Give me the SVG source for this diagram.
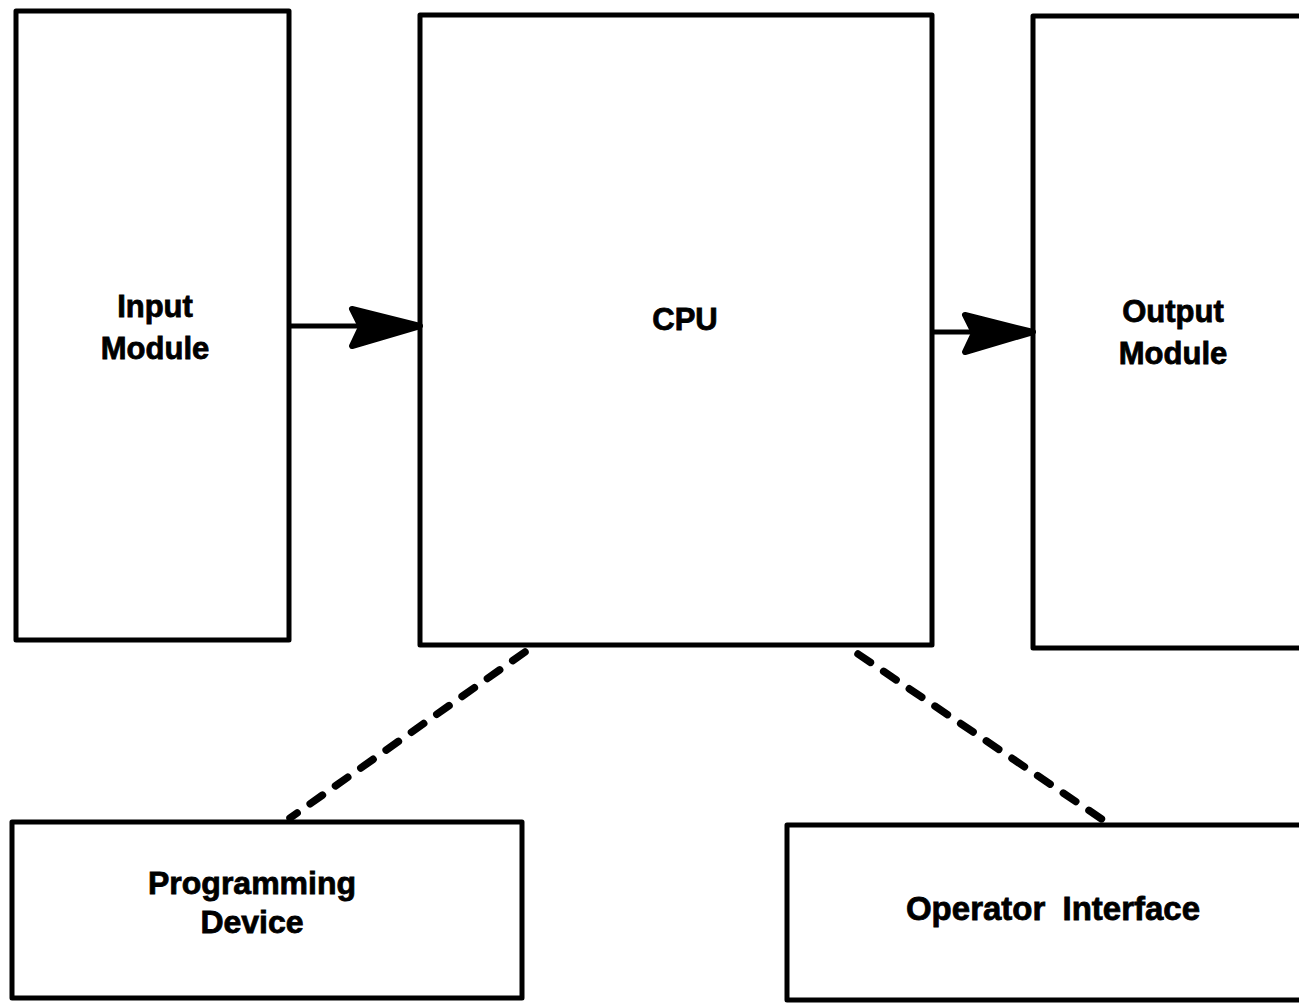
<svg xmlns="http://www.w3.org/2000/svg" width="1299" height="1003" viewBox="0 0 1299 1003">
<style>
.box{fill:#fff;stroke:#000;stroke-width:5;stroke-linejoin:round}
.lbl{font-family:"Liberation Sans",Arial,sans-serif;font-weight:bold;font-size:31px;fill:#000;stroke:#000;stroke-width:0.8;text-anchor:middle}
.flow{stroke:#000;stroke-width:5;fill:none}
.dash{stroke:#000;stroke-width:7.5;fill:none;stroke-linecap:round;stroke-dasharray:15 16}
</style>
<defs>
<marker id="ah" markerUnits="userSpaceOnUse" viewBox="0 -24 76 48" refX="52" refY="0" markerWidth="76" markerHeight="48" orient="auto">
<path d="M4,-17 L72,0 L4,20 L13,1 Z" fill="#000" stroke="#000" stroke-width="6" stroke-linejoin="round"/>
</marker>
</defs>
<rect width="1299" height="1003" fill="#fff"/>
<g id="input-module">
<rect class="box" x="16" y="11" width="273" height="629"/>
<text class="lbl" x="155" y="317">Input</text>
<text class="lbl" x="155" y="359">Module</text>
</g>
<g id="cpu">
<rect class="box" x="420" y="15" width="512" height="630"/>
<text class="lbl" x="685" y="330">CPU</text>
</g>
<g id="output-module">
<rect class="box" x="1033" y="16" width="280" height="632"/>
<text class="lbl" x="1173" y="322">Output</text>
<text class="lbl" x="1173" y="364">Module</text>
</g>
<g id="programming-device">
<rect class="box" x="12" y="822" width="510" height="176"/>
<text class="lbl" x="252" y="894" style="font-size:32px">Programming</text>
<text class="lbl" x="252" y="933" style="font-size:32px">Device</text>
</g>
<g id="operator-interface">
<rect class="box" x="787" y="825" width="520" height="175"/>
<text class="lbl" x="1053" y="920" style="font-size:33px;word-spacing:8px">Operator Interface</text>
</g>
<g id="connectors">
<line class="flow" x1="290" y1="326" x2="400" y2="326" marker-end="url(#ah)"/>
<line class="flow" x1="932" y1="332" x2="1013" y2="332" marker-end="url(#ah)"/>
<line class="dash" x1="525" y1="652" x2="290" y2="818"/>
<line class="dash" x1="858" y1="654" x2="1106" y2="822"/>
</g>
</svg>
